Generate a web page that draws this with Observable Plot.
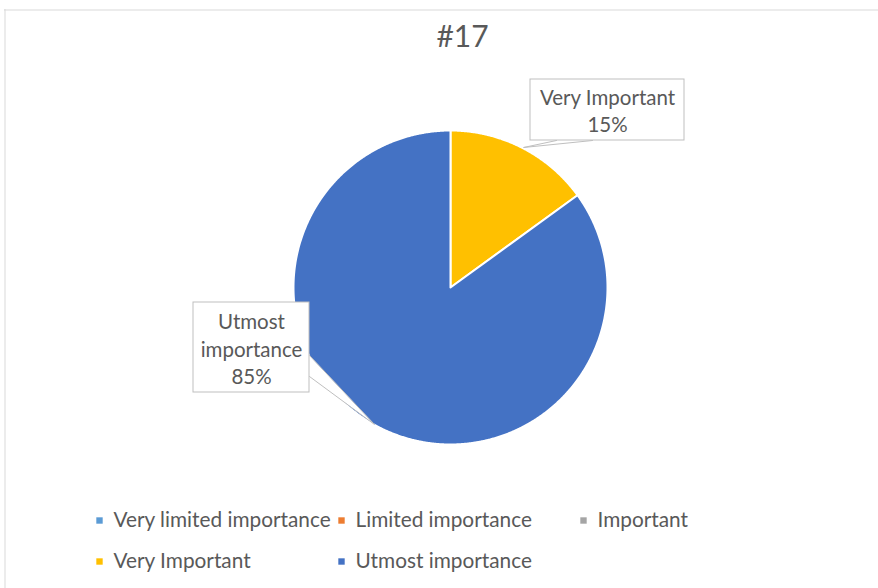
<!DOCTYPE html>
<html>
<head>
<meta charset="utf-8">
<script src="https://cdn.jsdelivr.net/npm/d3@7"></script>
<script src="https://cdn.jsdelivr.net/npm/@observablehq/plot@0.6"></script>
<style>
  html, body { margin: 0; padding: 0; background: #fff; }
  svg { display: block; }
</style>
</head>
<body>
<div id="chart"></div>
<script>
// ---- data ----
const title = "#17";
const categories = ["Very limited importance", "Limited importance", "Important", "Very Important", "Utmost importance"];
const values = [0, 0, 0, 15, 85];
const colors = ["#5B9BD5", "#ED7D31", "#A5A5A5", "#FFC000", "#4472C4"];

// ---- layout ----
const W = 878, H = 588;
const cx = 450, cy = 287, R = 157;
const font = "Lato, 'Open Sans', sans-serif";
const textColor = "#595959";

const total = d3.sum(values);
const pie = d3.pie().sort(null).value(d => d.value)(categories.map((c, i) => ({cat: c, value: values[i], color: colors[i]})));

// slice polygons
const slicePts = [];
pie.forEach(p => {
  if (p.endAngle - p.startAngle <= 0) return;
  const n = Math.max(2, Math.ceil((p.endAngle - p.startAngle) / 0.005));
  slicePts.push({cat: p.data.cat, x: cx, y: cy});
  for (let k = 0; k <= n; k++) {
    const a = p.startAngle + (p.endAngle - p.startAngle) * k / n;
    slicePts.push({cat: p.data.cat, x: cx + R * Math.sin(a), y: cy - R * Math.cos(a)});
  }
  slicePts.push({cat: p.data.cat, x: cx, y: cy});
});

// callout labels (box, text lines, leader wedge)
const pct = v => Math.round(v / total * 100) + "%";
const callouts = [
  {cat: "Very Important", x1: 530, x2: 684, y1: 79, y2: 140,
   lines: ["Very Important", pct(values[3])], ly0: 98, dy: 27,
   wedge: [[556, 140], [523, 147], [592, 140]]},
  {cat: "Utmost importance", x1: 193, x2: 309, y1: 302, y2: 392,
   lines: ["Utmost", "importance", pct(values[4])], ly0: 322, dy: 27.5,
   wedge: [[309, 355], [374, 424], [309, 376]]}
];
const wedgePts = [];
callouts.forEach(c => c.wedge.forEach(([x, y]) => wedgePts.push({cat: c.cat, x, y})));
const calloutText = [];
callouts.forEach(c => c.lines.forEach((t, i) => calloutText.push({x: (c.x1 + c.x2) / 2, y: c.ly0 + i * c.dy, t})));

// legend
const legendPos = [[99, 520], [341, 520], [583, 520], [99, 561], [341, 561]];
const legend = categories.map((c, i) => ({cat: c, color: colors[i], x: legendPos[i][0], y: legendPos[i][1]}));

const chart = Plot.plot({
  width: W, height: H,
  margin: 0,
  x: {domain: [0, W], range: [0, W], axis: null},
  y: {domain: [0, H], range: [0, H], axis: null},
  style: {fontFamily: font, background: "#fff"},
  marks: [
    // chart frame
    Plot.ruleY([9.5], {x1: 4, x2: W, stroke: "#d9d9d9", strokeWidth: 1}),
    Plot.ruleX([4.5], {y1: 9, y2: H, stroke: "#d9d9d9", strokeWidth: 1}),
    // title
    Plot.text([title], {x: 462, y: 37, text: d => d, fontSize: 30, fill: textColor, textAnchor: "middle"}),
    // pie slices
    Plot.line(slicePts, {x: "x", y: "y", z: "cat", fill: d => colors[categories.indexOf(d.cat)], stroke: "#fff", strokeWidth: 2, strokeLinejoin: "round", curve: "linear"}),
    // callout wedges
    Plot.line(wedgePts, {x: "x", y: "y", z: "cat", fill: "#fff", stroke: "#bfbfbf", strokeWidth: 1}),
    // callout boxes
    Plot.rect(callouts, {x1: "x1", x2: "x2", y1: "y1", y2: "y2", fill: "#fff", stroke: "#bfbfbf", strokeWidth: 1}),
    Plot.text(calloutText, {x: "x", y: "y", text: "t", fontSize: 20.5, fill: textColor, textAnchor: "middle"}),
    // legend
    Plot.dot(legend, {x: "x", y: "y", symbol: "square", r: 3.6, fill: "color", stroke: null}),
    Plot.text(legend, {x: d => d.x + 14, y: "y", text: "cat", fontSize: 20.8, fill: textColor, textAnchor: "start"})
  ]
});
document.getElementById("chart").appendChild(chart);
</script>
</body>
</html>
